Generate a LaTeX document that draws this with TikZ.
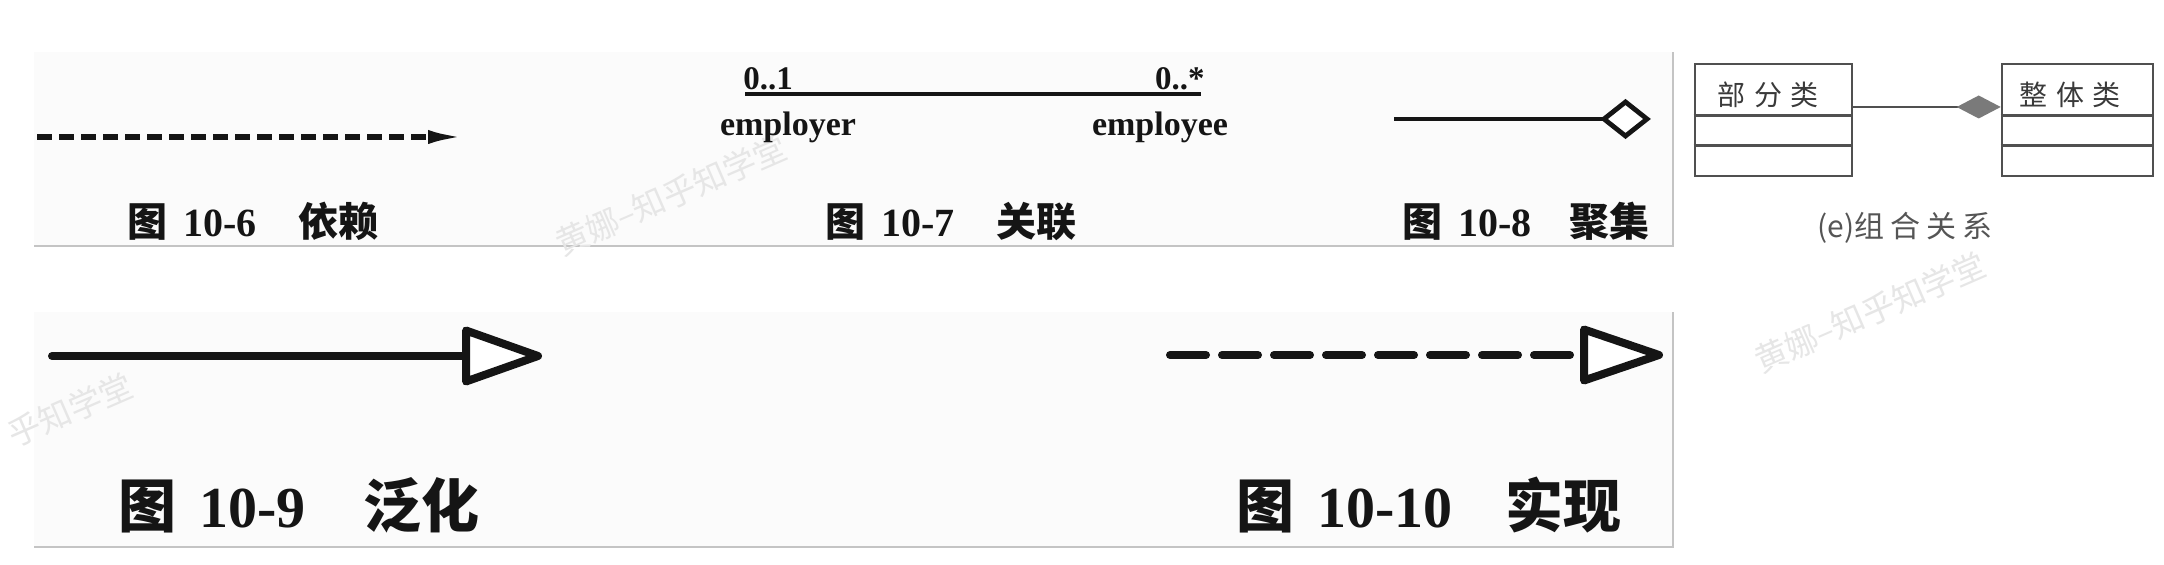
\documentclass[tikz,border=0pt]{standalone}
\usepackage{fontspec}
\setmainfont{Liberation Serif}
\newfontfamily\cjk{Noto Sans CJK SC}
\usetikzlibrary{arrows.meta,calc}
\definecolor{panelbg}{HTML}{FBFBFB}
\definecolor{panelline}{HTML}{C4C4C4}
\definecolor{umlgray}{HTML}{505050}
\definecolor{umltextc}{HTML}{3A3A3A}
\definecolor{captiongray}{HTML}{555555}
\definecolor{cmpfill}{HTML}{7A7A7A}
\definecolor{wmark}{HTML}{E6E6E6}
\definecolor{ink}{HTML}{151515}
\begin{document}
\begin{tikzpicture}[x=0.5pt,y=-0.5pt,
  capsmall/.style={anchor=base west, inner sep=0pt, text=ink, font=\fontsize{20}{24}\selectfont\bfseries},
  capbig/.style={anchor=base west, inner sep=0pt, text=ink, font=\fontsize{29}{34}\selectfont\bfseries},
  multlbl/.style={inner sep=0pt, text=ink, font=\fontsize{16.5}{19}\selectfont\bfseries},
  rolelbl/.style={anchor=base, inner sep=0pt, text=ink, font=\fontsize{17}{20}\selectfont\bfseries},
  deparrow/.style={draw=ink, line width=2.6pt, dash pattern=on 7.5pt off 3.5pt, -{Latex[length=18pt,width=7pt]}},
  assocline/.style={draw=ink, line width=2.2pt},
  aggline/.style={draw=ink, line width=2.4pt},
  aggdiamond/.style={draw=ink, line width=2.4pt, line join=miter, fill=white},
  genline/.style={draw=ink, line width=4pt, line cap=round},
  gentri/.style={draw=ink, line width=4pt, line join=round, fill=white},
  realline/.style={draw=ink, line width=4pt, line cap=round, dash pattern=on 18pt off 8pt},
  umlbox/.style={draw=umlgray, line width=1.3pt, inner sep=0pt},
  umldiv/.style={draw=umlgray, line width=1.3pt},
  cmpline/.style={draw=umlgray, line width=1.1pt, -{Diamond[length=22pt,width=11.5pt,fill=cmpfill,color=cmpfill]}},
  umltext/.style={inner sep=0pt, text=umltextc, font=\fontsize{14}{17}\selectfont\cjk},
  wm/.style={inner sep=0pt, rotate=23.5, text=wmark, font=\fontsize{16.5}{20}\selectfont\cjk},
]
\useasboundingbox (0,0) rectangle (2164,565);
\fill[white] (0,0) rectangle (2164,565);

% panels
\fill[panelbg] (34,52) rectangle (1673,246);
\draw[panelline, line width=0.8pt] (34,246) -- (1673,246) -- (1673,52);
\fill[panelbg] (34,312) rectangle (1673,547);
\draw[panelline, line width=0.8pt] (34,547) -- (1673,547) -- (1673,312);

% watermarks
\node[wm] (wm1) at (671,195) {黄娜–知乎知学堂};
\node[wm] (wm2) at (1870,312) {黄娜–知乎知学堂};
\node[wm] (wm3) at (70,410) {乎知学堂};

% 10-6 dependency
\coordinate (dep-s) at (37,137);
\coordinate (dep-e) at (464,137);
\draw[deparrow] (dep-s) -- (dep-e);
\node[capsmall] (cap6) at (127,237) {{\cjk 图}\hspace{0.4em}10-6\hspace{1.05em}{\cjk 依赖}};

% 10-7 association
\coordinate (as-l) at (745,94);
\coordinate (as-r) at (1201,94);
\draw[assocline] (as-l) -- (as-r);
\node[multlbl, anchor=base west] (m-left) at (743,90) {0..1};
\node[multlbl, anchor=base east] (m-right) at (1205,90) {0..*};
\node[rolelbl] (r-left) at (788,136) {employer};
\node[rolelbl] (r-right) at (1160,136) {employee};
\node[capsmall] (cap7) at (825,237) {{\cjk 图}\hspace{0.4em}10-7\hspace{1.05em}{\cjk 关联}};

% 10-8 aggregation
\coordinate (ag-s) at (1394,119);
\coordinate (ag-l) at (1604,119);
\draw[aggline] (ag-s) -- (ag-l);
\draw[aggdiamond] (ag-l) -- ++(21.5,-17) -- ++(21.5,17) -- ++(-21.5,17) -- cycle;
\node[capsmall] (cap8) at (1402,237) {{\cjk 图}\hspace{0.4em}10-8\hspace{0.95em}{\cjk 聚集}};

% (e) composition
\node[umlbox, minimum width=78.5pt, minimum height=56pt] (part) at (1773.5,120) {};
\node[umlbox, minimum width=75.5pt, minimum height=56pt] (whole) at (2077.5,120) {};
\draw[umldiv] ($(part.north west)+(0,53)$) -- ($(part.north east)+(0,53)$);
\draw[umldiv] ($(part.north west)+(0,83)$) -- ($(part.north east)+(0,83)$);
\draw[umldiv] ($(whole.north west)+(0,53)$) -- ($(whole.north east)+(0,53)$);
\draw[umldiv] ($(whole.north west)+(0,83)$) -- ($(whole.north east)+(0,83)$);
\node[umltext] (part-name) at (1768,95) {部\hspace{0.3em}分\hspace{0.3em}类};
\node[umltext] (whole-name) at (2070,95) {整\hspace{0.3em}体\hspace{0.3em}类};
\coordinate (cmp-y) at (0,107);
\draw[cmpline] (part.east |- cmp-y) -- (whole.west |- cmp-y);
\node[umltext, text=captiongray, font=\fontsize{15}{18}\selectfont\cjk] (cap-e) at (1905,228) {(e)组\hspace{0.2em}合\hspace{0.2em}关\hspace{0.2em}系};

% 10-9 generalization
\coordinate (gen-s) at (52,356);
\coordinate (gen-b) at (466,356);
\coordinate (gen-t) at (538,356);
\draw[genline] (gen-s) -- (gen-b);
\draw[gentri] ($(gen-b)+(0,-25.5)$) -- (gen-t) -- ($(gen-b)+(0,25.5)$) -- cycle;
\node[capbig] (cap9) at (118,528) {{\cjk 图}\hspace{0.4em}10-9\hspace{1.0em}{\cjk 泛化}};

% 10-10 realization
\coordinate (real-s) at (1170,355);
\coordinate (real-b) at (1584,355);
\coordinate (real-t) at (1659,355);
\draw[realline] (real-s) -- (real-b);
\draw[gentri] ($(real-b)+(0,-25.5)$) -- (real-t) -- ($(real-b)+(0,25.5)$) -- cycle;
\node[capbig] (cap10) at (1236,528) {{\cjk 图}\hspace{0.4em}10-10\hspace{0.9em}{\cjk 实现}};
\end{tikzpicture}
\end{document}
